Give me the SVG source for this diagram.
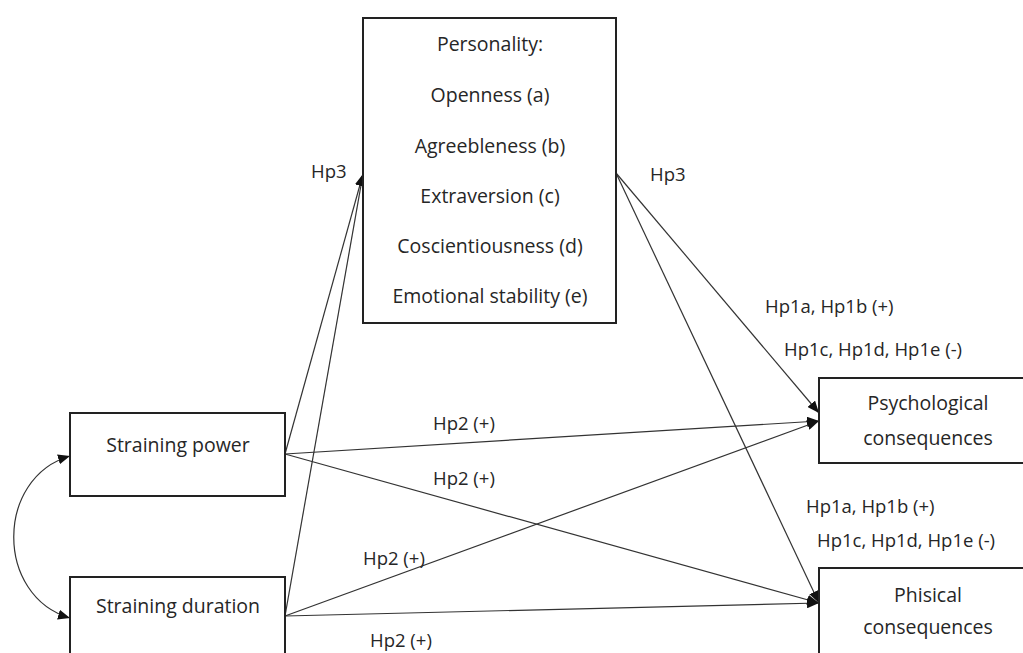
<svg xmlns="http://www.w3.org/2000/svg" width="1023" height="653" viewBox="0 0 1023 653">
<defs>
<style>
text{font-family:"Open Sans","Liberation Sans",sans-serif;font-size:18.5px;fill:#262626}
.c{text-anchor:middle;font-size:19.5px}
.box{fill:#fff;stroke:#222;stroke-width:2}
.ln{fill:none;stroke:#333;stroke-width:1.2}
</style>
<marker id="ah" viewBox="0 0 12 10" refX="12" refY="5" markerWidth="12" markerHeight="10" markerUnits="userSpaceOnUse" orient="auto-start-reverse">
<path d="M0,0 L12,5 L0,10 Z" fill="#111"/>
</marker>
</defs>
<rect width="1023" height="653" fill="#fff"/>
<g id="connectors">
<line class="ln" x1="285" y1="454" x2="363" y2="174" marker-end="url(#ah)"/>
<line class="ln" x1="285" y1="616" x2="363" y2="174" marker-end="url(#ah)"/>
<line class="ln" x1="616" y1="173" x2="819" y2="413" marker-end="url(#ah)"/>
<line class="ln" x1="616" y1="173" x2="819" y2="603" marker-end="url(#ah)"/>
<line class="ln" x1="285" y1="454" x2="819" y2="421" marker-end="url(#ah)"/>
<line class="ln" x1="285" y1="454" x2="819" y2="603" marker-end="url(#ah)"/>
<line class="ln" x1="285" y1="616" x2="819" y2="421" marker-end="url(#ah)"/>
<line class="ln" x1="285" y1="616" x2="819" y2="603" marker-end="url(#ah)"/>
<path class="ln" d="M70,456 C-5,478 -5,596 70,618" marker-start="url(#ah)" marker-end="url(#ah)"/>
</g>
<g id="personality">
<rect class="box" x="363" y="18" width="253" height="305"/>
<text class="c" x="490" y="51">Personality:</text>
<text class="c" x="490" y="102">Openness (a)</text>
<text class="c" x="490" y="153">Agreebleness (b)</text>
<text class="c" x="490" y="203">Extraversion (c)</text>
<text class="c" x="490" y="253">Coscientiousness (d)</text>
<text class="c" x="490" y="303">Emotional stability (e)</text>
</g>
<g id="straining-power">
<rect class="box" x="70" y="413" width="215" height="83"/>
<text class="c" x="178" y="452">Straining power</text>
</g>
<g id="straining-duration">
<rect class="box" x="70" y="577" width="215" height="100"/>
<text class="c" x="178" y="613">Straining duration</text>
</g>
<g id="psychological">
<rect class="box" x="819" y="378" width="230" height="85"/>
<text class="c" x="928" y="410">Psychological</text>
<text class="c" x="928" y="445">consequences</text>
</g>
<g id="phisical">
<rect class="box" x="819" y="568" width="230" height="100"/>
<text class="c" x="928" y="602">Phisical</text>
<text class="c" x="928" y="634">consequences</text>
</g>
<g id="labels">
<text x="311" y="178">Hp3</text>
<text x="650" y="181">Hp3</text>
<text x="765" y="313">Hp1a, Hp1b (+)</text>
<text x="784" y="356">Hp1c, Hp1d, Hp1e (-)</text>
<text x="806" y="513">Hp1a, Hp1b (+)</text>
<text x="817" y="547">Hp1c, Hp1d, Hp1e (-)</text>
<text x="433" y="430">Hp2 (+)</text>
<text x="433" y="485">Hp2 (+)</text>
<text x="363" y="565">Hp2 (+)</text>
<text x="370" y="647">Hp2 (+)</text>
</g>
</svg>
